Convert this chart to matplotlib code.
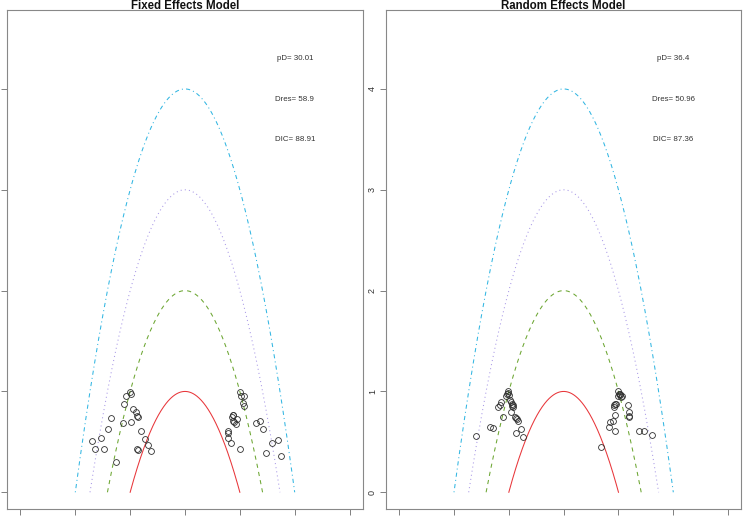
import matplotlib
matplotlib.use("Agg")
import matplotlib.pyplot as plt
import numpy as np

plt.rcParams['font.family'] = ['Liberation Sans', 'DejaVu Sans']

titles = ["Fixed Effects Model", "Random Effects Model"]
pD = ["30.01", "36.4"]
Dres = ["58.9", "50.96"]
DIC = ["88.91", "87.36"]

fixed_x = [-1.0, -0.988, -1.067, -1.121, -0.939, -0.897, -0.867, -0.848, -1.358, -1.139,
           -0.982, -1.412, -0.806, -1.533, -1.697, -0.721, -1.648, -1.485, -0.679, -0.867,
           -0.848, -0.624, -1.267,
           1.0, 1.012, 1.079, 1.055, 1.067, 0.879, 0.861, 0.939, 0.867, 0.897,
           0.927, 0.782, 0.782, 0.782, 0.830, 1.0, 1.297, 1.376, 1.430, 1.588,
           1.703, 1.485, 1.752, 0.873]
fixed_y = [0.998, 0.976, 0.953, 0.873, 0.827, 0.797, 0.757, 0.744, 0.741, 0.691,
           0.698, 0.632, 0.608, 0.536, 0.506, 0.529, 0.427, 0.427, 0.473, 0.427,
           0.420, 0.413, 0.298,
           0.998, 0.953, 0.953, 0.886, 0.857, 0.770, 0.744, 0.727, 0.708, 0.695,
           0.675, 0.608, 0.585, 0.542, 0.486, 0.427, 0.691, 0.711, 0.625, 0.492,
           0.516, 0.393, 0.363, 0.769]

random_x = [-1.594, -1.345, -1.297, -1.206, -1.164, -1.145, -1.109, -1.055, -1.042, -1.018,
            -1.006, -0.994, -0.982, -0.964, -0.952, -0.945, -0.933, -0.921, -0.915, -0.891,
            -0.867, -0.855, -0.836, -0.867, -0.782, -0.739,
            0.673, 0.818, 0.842, 0.896, 0.939, 0.939, 0.921, 0.927, 0.939, 0.958,
            1.0, 1.006, 1.024, 1.036, 1.048, 1.061, 1.0, 1.18, 1.193, 1.19, 1.19,
            1.382, 1.46, 1.606]
random_y = [0.561, 0.650, 0.637, 0.845, 0.868, 0.894, 0.746, 0.950, 0.977, 1.0,
            0.987, 0.967, 0.917, 0.792, 0.894, 0.878, 0.858, 0.868, 0.845, 0.749,
            0.733, 0.726, 0.710, 0.584, 0.630, 0.548,
            0.453, 0.651, 0.695, 0.705, 0.612, 0.771, 0.845, 0.861, 0.871, 0.878,
            1.0, 0.977, 0.960, 0.974, 0.947, 0.950, 0.954, 0.870, 0.797, 0.757, 0.750,
            0.612, 0.612, 0.569]

levels = [1, 2, 3, 4]
colors = ["#E8363A", "#6CA632", "#A898E6", "#32B6E2"]
styles = ["-", (0, (4, 4)), (0, (1, 3)), (0, (1, 3, 4, 3))]
x_ticks = [-3, -2, -1, 0, 1, 2, 3]
y_ticks = [0, 1, 2, 3, 4]

W, H = 744, 518
fig = plt.figure(figsize=(W / 100, H / 100), dpi=100)

boxes = [(7.3, 362.7), (386.0, 741.3)]
top_px, bot_px = 10.3, 509.0
datasets = [(fixed_x, fixed_y), (random_x, random_y)]

for i in range(2):
    l, r = boxes[i]
    ax = fig.add_axes([l / W, 1 - bot_px / H, (r - l) / W, (bot_px - top_px) / H])
    for c, col, ls in zip(levels, colors, styles):
        xs = np.linspace(-np.sqrt(c), np.sqrt(c), 300)
        ax.plot(xs, c - xs ** 2, color=col, ls=ls, lw=0.75)
    x, y = datasets[i]
    ax.plot(x, y, 'o', mfc='none', mec='#303030', ms=4.2, mew=0.6, ls='none')
    ax.set_xlim(-3.24, 3.24)
    ax.set_ylim(-0.166, 4.78)
    ax.set_xticks(x_ticks)
    ax.set_yticks(y_ticks)
    ax.tick_params(axis='both', direction='out', length=4, width=0.7,
                   colors='#808080', labelcolor='#333333', labelsize=6.5, pad=2.5)
    for lab in ax.get_yticklabels():
        lab.set_rotation(90)
        lab.set_va('center')
    for s in ax.spines.values():
        s.set_color('#888888')
        s.set_linewidth(0.8)
    ax.text(2, 4.3, "pD= " + pD[i], ha='center', va='center', fontsize=5.7, color='#333333')
    ax.text(2, 3.9, "Dres= " + Dres[i], ha='center', va='center', fontsize=5.7, color='#333333')
    ax.text(2, 3.5, "DIC= " + DIC[i], ha='center', va='center', fontsize=5.7, color='#333333')
    fig.text((l + r) / 2 / W, 1 - 9 / H, titles[i], ha='center', va='baseline',
             fontsize=8.3, fontweight='bold', color='#111111')

fig.savefig("out.png", dpi=100)
